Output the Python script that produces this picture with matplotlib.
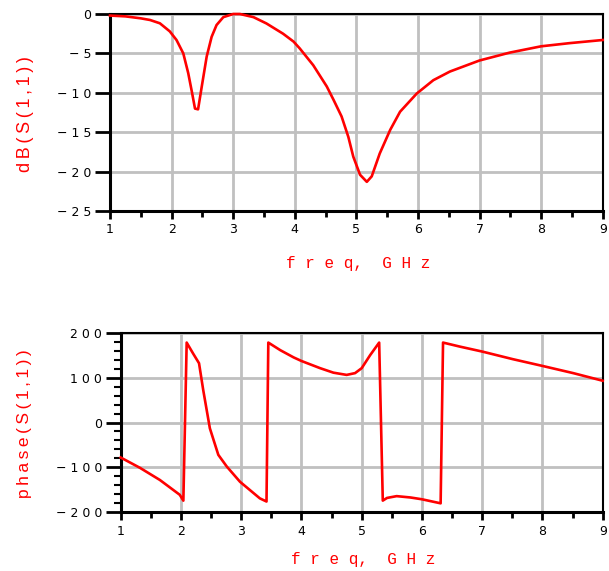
import matplotlib
matplotlib.use("Agg")
import matplotlib.pyplot as plt
from matplotlib.ticker import MultipleLocator

# ---------------- data ----------------
freq_db = [1.0, 1.25, 1.5, 1.65, 1.81, 1.97, 2.08, 2.19, 2.27, 2.33, 2.38, 2.43,
           2.49, 2.57, 2.65, 2.73, 2.84, 3.0, 3.11, 3.33, 3.54, 3.81, 3.98, 4.08,
           4.3, 4.52, 4.63, 4.76, 4.87, 4.95, 5.06, 5.17, 5.25, 5.38, 5.55, 5.71,
           5.98, 6.25, 6.52, 7.0, 7.49, 8.0, 8.46, 9.0]
db_s11 = [-0.2, -0.3, -0.55, -0.76, -1.18, -2.2, -3.3, -5.0, -7.5, -9.9, -12.0,
          -12.1, -9.2, -5.4, -2.9, -1.4, -0.4, 0.0, 0.0, -0.4, -1.2, -2.5, -3.5,
          -4.36, -6.5, -9.2, -10.9, -13.0, -15.6, -18.1, -20.4, -21.3, -20.6, -17.7,
          -14.7, -12.4, -10.1, -8.4, -7.3, -5.9, -4.9, -4.1, -3.7, -3.3]

freq_ph = [1.0, 1.32, 1.65, 1.98, 2.04, 2.095, 2.2, 2.3, 2.37, 2.48, 2.62, 2.76,
           2.98, 3.31, 3.42, 3.45, 3.65, 3.87, 4.0, 4.31, 4.53, 4.75, 4.89, 5.0,
           5.14, 5.29, 5.35, 5.42, 5.58, 5.81, 6.0, 6.31, 6.35, 6.63, 7.0, 7.51,
           8.0, 8.51, 9.0]
phase_s11 = [-78, -101, -128, -161, -174, 178, 154, 132, 72, -13, -72, -98, -132,
             -169, -176, 178, 161, 145, 137, 121, 111, 106, 110, 121, 150, 178,
             -174, -168, -164, -167, -171, -180, 178, 169, 158, 141, 126, 110, 93]

x_ticks = [1, 2, 3, 4, 5, 6, 7, 8, 9]
db_ticks = [0, -5, -10, -15, -20, -25]
ph_ticks = [200, 100, 0, -100, -200]

x_label = "freq, GHz"
db_label = "dB(S(1,1))"
ph_label = "phase(S(1,1))"

# ---------------- style ----------------
RED = "#ff0000"
GRID = "#c0c0c0"
MONO = ["Liberation Mono", "DejaVu Sans Mono"]
SANS = ["Liberation Sans", "DejaVu Sans"]
TICKFONT = ["DejaVu Sans"]


def tick_text(v):
    s = "%d" % v
    s = s.replace("-", "\u2212")
    return " ".join(s)


def xlabel_text(s):
    # monospace with one blank cell between letters, comma hugging the word
    out = []
    for i, ch in enumerate(s):
        if ch == " ":
            out.append("  ")
            continue
        out.append(ch)
        nxt = s[i + 1] if i + 1 < len(s) else ""
        if nxt and nxt not in ", ":
            out.append(" ")
    return "".join(out)


fig = plt.figure(figsize=(6.09, 5.71), dpi=100)
W, H = 609.0, 571.0

ax1 = fig.add_axes([110 / W, 1 - 211 / H, (602.7 - 110) / W, (211 - 14) / H])
ax2 = fig.add_axes([120.7 / W, 1 - 512.3 / H, (602.7 - 120.7) / W, (512.3 - 332.7) / H])


def style(ax, yticks, ylim, ylabel, ylabel_size, yminor=None):
    ax.set_xlim(1, 9)
    ax.set_ylim(*ylim)
    ax.set_xticks(x_ticks)
    ax.set_xticklabels([tick_text(t) for t in x_ticks], family=TICKFONT, fontsize=9)
    ax.xaxis.set_minor_locator(MultipleLocator(0.5))
    ax.set_yticks(yticks)
    ax.set_yticklabels([tick_text(t) for t in yticks], family=TICKFONT, fontsize=9)
    if yminor:
        ax.yaxis.set_minor_locator(MultipleLocator(yminor))
    ax.grid(True, which="major", color=GRID, linewidth=2)
    for s in ["left", "bottom"]:
        ax.spines[s].set_linewidth(2.2)
    for s in ["top", "right"]:
        ax.spines[s].set_linewidth(1.5)
    for s in ax.spines.values():
        s.set_color("black")
    ax.tick_params(axis="x", which="major", length=6, width=2, direction="out", pad=3)
    ax.tick_params(axis="x", which="minor", length=4, width=2, direction="out")
    ax.tick_params(axis="y", which="major", length=11, width=2, direction="out", pad=2.5)
    ax.tick_params(axis="y", which="minor", length=5, width=1.5, direction="out")
    ax.set_ylabel("\u2009".join(ylabel), color=RED, fontsize=ylabel_size, family=SANS)
    ax.set_xlabel(xlabel_text(x_label), color=RED, fontsize=11.5, family=MONO)


style(ax1, db_ticks, (-25, 0), db_label, 13)
style(ax2, ph_ticks, (-200, 200), ph_label, 12.5, yminor=20)

ax1.plot(freq_db, db_s11, color=RED, linewidth=1.9, clip_on=False, zorder=3)
ax2.plot(freq_ph, phase_s11, color=RED, linewidth=1.9, clip_on=False, zorder=3)

# label placement (figure pixel coordinates converted to figure fraction)
ax1.yaxis.set_label_coords(25 / W, 1 - 114 / H, transform=fig.transFigure)
ax2.yaxis.set_label_coords(25 / W, 1 - 424 / H, transform=fig.transFigure)
for ax in (ax1, ax2):
    ax.yaxis.label.set_va("center")
    ax.yaxis.label.set_ha("center")
    ax.xaxis.label.set_va("baseline")
ax1.xaxis.set_label_coords(358 / W, 1 - 267.7 / H, transform=fig.transFigure)
ax2.xaxis.set_label_coords(363 / W, 1 - 564 / H, transform=fig.transFigure)

fig.savefig("out.png", dpi=100)
